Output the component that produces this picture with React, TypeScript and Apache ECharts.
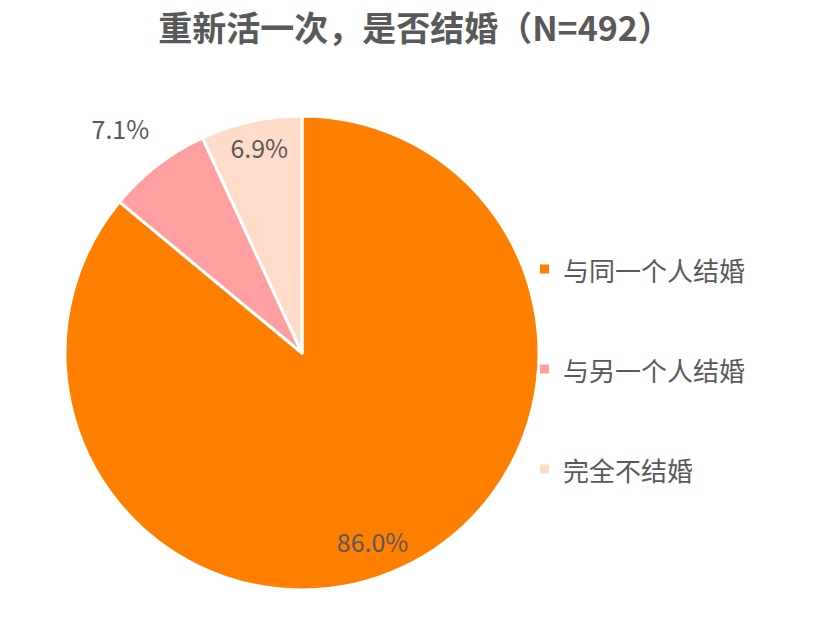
import React, { useEffect, useRef } from "react";
import * as echarts from "echarts";

const categories = ["与同一个人结婚", "与另一个人结婚", "完全不结婚"];
const shares = [86.0, 7.1, 6.9];
const colors = ["#FF8000", "#FF9F9F", "#FFDCCA"];
const titleText = "重新活一次，是否结婚（N=492）";

const FONT = "'Noto Sans CJK SC', 'Noto Sans', sans-serif";
const TEXT_GRAY = "#595959";

const App: React.FC = () => {
  const chartRef = useRef<HTMLDivElement>(null);

  useEffect(() => {
    document.body.style.margin = "0";
    if (!chartRef.current) return;
    const myChart = echarts.init(chartRef.current, undefined, { renderer: "svg" });

    const pieData = categories.map((name, i) => ({
      name,
      value: shares[i],
      itemStyle: { color: colors[i] },
    }));

    // label nudges so the percentages sit where the original put them
    const labelOffsets = [[-18, 0], [-4, 5], [2, -3]];

    // label-only overlays (transparent), used to place the percentages
    const labelData = (show: boolean[]) =>
      categories.map((name, i) => ({
        name,
        value: shares[i],
        itemStyle: { color: "rgba(0,0,0,0)", borderWidth: 0 },
        label: { show: show[i], offset: labelOffsets[i] },
      }));

    const labelStyle = {
      position: "inside" as const,
      formatter: (p: any) => p.value.toFixed(1) + "%",
      color: TEXT_GRAY,
      fontSize: 25,
      fontFamily: FONT,
    };

    const option: echarts.EChartsOption = {
      animation: false,
      title: {
        text: titleText,
        left: "center",
        top: 4,
        textStyle: {
          color: TEXT_GRAY,
          fontSize: 34,
          fontWeight: "bold",
          fontFamily: FONT,
        },
      },
      legend: {
        orient: "vertical",
        left: 533,
        top: 251,
        data: categories,
        icon: "path://M0,0h10v10h-10z",
        itemWidth: 27,
        itemHeight: 11,
        itemGap: 74,
        textStyle: {
          color: TEXT_GRAY,
          fontSize: 26,
          lineHeight: 26,
          fontFamily: FONT,
        },
      },
      series: [
        {
          type: "pie",
          center: [302, 353],
          radius: [0, 237],
          startAngle: 90,
          clockwise: true,
          label: { show: false },
          labelLine: { show: false },
          itemStyle: { borderColor: "#ffffff", borderWidth: 3 },
          emphasis: { disabled: true },
          data: pieData,
        },
        {
          type: "pie",
          center: [302, 353],
          radius: [173, 237],
          startAngle: 90,
          silent: true,
          label: labelStyle,
          labelLine: { show: false },
          emphasis: { disabled: true },
          data: labelData([true, false, true]),
        },
        {
          type: "pie",
          center: [302, 353],
          radius: [270, 306],
          startAngle: 90,
          silent: true,
          label: labelStyle,
          labelLine: { show: false },
          emphasis: { disabled: true },
          data: labelData([false, true, false]),
        },
      ],
    };

    myChart.setOption(option);

    return () => {
      myChart.dispose();
    };
  }, []);

  return <div ref={chartRef} style={{ width: "830px", height: "624px" }} />;
};

export default App;
